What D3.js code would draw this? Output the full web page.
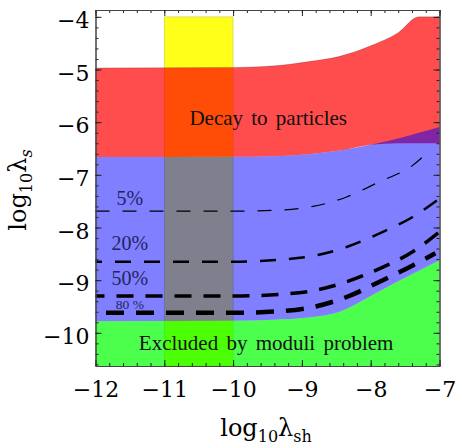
<!DOCTYPE html>
<html>
<head>
<meta charset="utf-8">
<script src="https://cdn.jsdelivr.net/npm/d3@7"></script>
<style>
  body { margin: 0; background: #fff; }
  svg text { font-family: "Liberation Serif", "DejaVu Serif", serif; }
  svg text.wide { font-family: "DejaVu Serif", serif; }
</style>
</head>
<body>
<div id="chart"></div>
<script>
// values
const xTicks = [-12, -11, -10, -9, -8, -7];
const yTicks = [-10, -9, -8, -7, -6, -5, -4];

// yellow strip in log10 lambda_sh
const stripX = [-11, -10];
const stripTop = -4;

// bands, all on one x grid
const bandX     = [-12, -10, -9.4, -8.9, -8.45, -8.0, -7.6, -7.3, -7.0];
const decayTop  = [-4.97, -4.96, -4.93, -4.85, -4.75, -4.55, -4.30, -4.0, -4.0];
const decayBot  = [-6.66, -6.655, -6.645, -6.61, -6.54, -6.43, -6.31, -6.20, -6.09];
const moduliTop = [-9.78, -9.77, -9.75, -9.71, -9.60, -9.30, -9.02, -8.82, -8.62];
const blueCap = -6.40;

// dashed contours
const c5x  = [-12, -10, -9.32, -8.84, -8.35, -7.87, -7.39, -7.22];
const c5y  = [-7.69, -7.69, -7.67, -7.60, -7.42, -7.13, -6.82, -6.63];
const c20x = [-12, -10, -9.32, -8.84, -8.35, -7.87, -7.39, -7.0];
const c20y = [-8.65, -8.65, -8.61, -8.54, -8.37, -8.11, -7.80, -7.45];
const c50x = [-12, -10, -9.32, -8.84, -8.35, -7.87, -7.39, -7.0];
const c50y = [-9.30, -9.30, -9.27, -9.20, -9.03, -8.78, -8.46, -8.08];
const c80x = [-12, -10, -9.32, -8.84, -8.35, -7.87, -7.39, -7.06];
const c80y = [-9.62, -9.62, -9.59, -9.51, -9.32, -9.03, -8.72, -8.49];

const contourNames = ["5%", "20%", "50%", "80 %"];
const labelPos = [[-11.5, -7.44], [-11.5, -8.30], [-11.5, -8.96], [-11.5, -9.46]];

const width = 456;
const height = 446;

const svg = d3.select("#chart")
  .append("svg")
  .attr("width", width)
  .attr("height", height);

const x = d3.scaleLinear().domain([-12, -7]).range([95.5, 439.5]);
const y = d3.scaleLinear().domain([-10.63, -3.87]).range([366, 10]);

const plot = svg.append("g");

// yellow strip
plot.append("rect")
  .attr("x", x(stripX[0]))
  .attr("y", y(stripTop))
  .attr("width", x(stripX[1]) - x(stripX[0]))
  .attr("height", y(-10.63) - y(stripTop))
  .attr("fill", "#ffff1a")
  .attr("stroke", "rgba(0,0,0,0.2)")
  .attr("stroke-width", 0.7);

const band = bandX.map((d, i) => ({
  x: d, top: decayTop[i], bot: decayBot[i], mod: moduliTop[i]
}));

// decay region (red)
plot.append("path")
  .datum(band)
  .attr("d", d3.area()
    .curve(d3.curveMonotoneX)
    .x(d => x(d.x))
    .y0(d => y(Math.min(d.bot, blueCap)))
    .y1(d => y(d.top)))
  .attr("fill", "rgba(255,0,0,0.7)");

// red top edge
plot.append("path")
  .datum(band)
  .attr("d", d3.line().curve(d3.curveMonotoneX).x(d => x(d.x)).y(d => y(d.top)))
  .attr("fill", "none")
  .attr("stroke", "rgba(0,0,0,0.25)")
  .attr("stroke-width", 0.7);

// moduli problem (green)
plot.append("path")
  .datum(band)
  .attr("d", d3.area()
    .curve(d3.curveMonotoneX)
    .x(d => x(d.x))
    .y0(y(-10.63))
    .y1(d => y(d.mod)))
  .attr("fill", "rgba(0,255,0,0.7)");

// blue region
plot.append("path")
  .datum(band)
  .attr("d", d3.area()
    .curve(d3.curveMonotoneX)
    .x(d => x(d.x))
    .y0(d => y(d.mod))
    .y1(d => y(d.bot)))
  .attr("fill", "rgba(0,0,255,0.5)");

// contours
const contours = [
  { xs: c5x,  ys: c5y,  w: 1.2, dash: "14,13", off: 0 },
  { xs: c20x, ys: c20y, w: 2.5, dash: "16,13", off: 9.5 },
  { xs: c50x, ys: c50y, w: 3.5, dash: "17,12", off: 8 },
  { xs: c80x, ys: c80y, w: 4.5, dash: "18,12", off: 19.5 }
];

const line = d3.line().curve(d3.curveMonotoneX).x(d => x(d[0])).y(d => y(d[1]));

contours.forEach(c => {
  plot.append("path")
    .datum(c.xs.map((v, i) => [v, c.ys[i]]))
    .attr("d", line)
    .attr("fill", "none")
    .attr("stroke", "#000")
    .attr("stroke-width", c.w)
    .attr("stroke-dasharray", c.dash)
    .attr("stroke-dashoffset", c.off);
});

// contour labels
plot.selectAll(".clabel")
  .data(contourNames)
  .enter()
  .append("text")
  .attr("class", "clabel")
  .attr("x", (d, i) => x(labelPos[i][0]))
  .attr("y", (d, i) => y(labelPos[i][1]))
  .attr("dy", "0.35em")
  .attr("text-anchor", "middle")
  .attr("fill", "#24245e")
  .style("font-size", (d, i) => i === 3 ? "13.5px" : "20px")
  .text(d => d);

// region labels
plot.append("text")
  .attr("x", x(-9.49))
  .attr("y", y(-5.92))
  .attr("dy", "0.35em")
  .attr("text-anchor", "middle")
  .style("font-size", "21px")
  .style("word-spacing", "3px")
  .attr("fill", "#111")
  .text("Decay to particles");

plot.append("text")
  .attr("x", x(-9.52))
  .attr("y", y(-10.18))
  .attr("dy", "0.35em")
  .attr("text-anchor", "middle")
  .style("font-size", "21px")
  .style("word-spacing", "3px")
  .attr("fill", "#111")
  .text("Excluded by moduli problem");

// frame and ticks (inward, on all sides)
const fmt = d => "\u2212" + Math.abs(d);
const minorX = d3.range(-12, -6.99, 0.2);
const minorY = d3.range(-10.6, -3.85, 0.2);

function styleAxis(g) {
  g.select(".domain").attr("stroke", "#444");
  g.selectAll(".tick line").attr("stroke", "#222");
  g.selectAll(".tick text")
    .attr("class", "wide")
    .style("font-size", "22px")
    .attr("fill", "#000");
}

svg.append("g")
  .attr("transform", `translate(0,${y(-10.63)})`)
  .call(d3.axisBottom(x).tickValues(minorX).tickSize(-3).tickFormat(""))
  .call(styleAxis);
svg.append("g")
  .attr("transform", `translate(0,${y(-10.63)})`)
  .call(d3.axisBottom(x).tickValues(xTicks).tickSize(-6).tickPadding(15).tickFormat(fmt))
  .call(styleAxis);
svg.append("g")
  .attr("transform", `translate(0,${y(-3.87)})`)
  .call(d3.axisTop(x).tickValues(minorX).tickSize(-3).tickFormat(""))
  .call(styleAxis);
svg.append("g")
  .attr("transform", `translate(0,${y(-3.87)})`)
  .call(d3.axisTop(x).tickValues(xTicks).tickSize(-6).tickFormat(""))
  .call(styleAxis);

svg.append("g")
  .attr("transform", `translate(${x(-12)},0)`)
  .call(d3.axisLeft(y).tickValues(minorY).tickSize(-3).tickFormat(""))
  .call(styleAxis);
const yAxisG = svg.append("g")
  .attr("transform", `translate(${x(-12)},0)`)
  .call(d3.axisLeft(y).tickValues(yTicks).tickSize(-6).tickPadding(6).tickFormat(fmt))
  .call(styleAxis);
yAxisG.selectAll(".tick text").attr("dy", "0.48em");
svg.append("g")
  .attr("transform", `translate(${x(-7)},0)`)
  .call(d3.axisRight(y).tickValues(minorY).tickSize(-3).tickFormat(""))
  .call(styleAxis);
svg.append("g")
  .attr("transform", `translate(${x(-7)},0)`)
  .call(d3.axisRight(y).tickValues(yTicks).tickSize(-6).tickFormat(""))
  .call(styleAxis);

// axis titles
const xt = svg.append("text")
  .attr("class", "wide")
  .attr("x", 266)
  .attr("y", 436)
  .attr("text-anchor", "middle")
  .style("font-size", "24px");
xt.append("tspan").text("log");
xt.append("tspan").attr("dy", 6).style("font-size", "16px").text("10");
xt.append("tspan").attr("dy", -6).text("\u03bb");
xt.append("tspan").attr("dy", 6).style("font-size", "16px").text("sh");

const yt = svg.append("text")
  .attr("class", "wide")
  .attr("transform", "translate(26,190) rotate(-90)")
  .attr("text-anchor", "middle")
  .style("font-size", "24px");
yt.append("tspan").text("log");
yt.append("tspan").attr("dy", 6).style("font-size", "16px").text("10");
yt.append("tspan").attr("dy", -6).text("\u03bb");
yt.append("tspan").attr("dy", 6).style("font-size", "16px").style("font-style", "italic").text("s");
</script>
</body>
</html>
